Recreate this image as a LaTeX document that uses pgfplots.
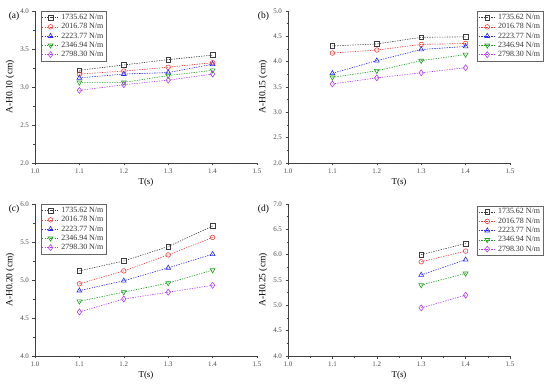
\documentclass[border=0pt]{standalone}
\usepackage{pgfplots}
\pgfplotsset{compat=1.18}
\usepackage{fontspec}
\setmainfont{Liberation Serif}
\definecolor{cK}{RGB}{60,60,60}
\definecolor{cR}{RGB}{255,60,60}
\definecolor{cB}{RGB}{40,40,255}
\definecolor{cG}{RGB}{30,160,30}
\definecolor{cP}{RGB}{180,60,255}
\tikzset{plab/.style={font=\fontsize{9.5}{10}\selectfont, anchor=east}}
\pgfplotsset{
  panel/.style={
    width=222bp, height=152bp, scale only axis,
    axis lines*=left, axis line style={draw=black!75, line width=0.5bp},
    xmin=1.0, xmax=1.5, xtick={1.0,1.1,1.2,1.3,1.4,1.5},
    minor x tick num=1, minor y tick num=1,
    tick align=outside, major tick length=2.5bp, minor tick length=1.5bp,
    tick style={black!75, line width=0.5bp},
    xticklabel style={/pgf/number format/fixed,/pgf/number format/fixed zerofill,/pgf/number format/precision=1},
    yticklabel style={/pgf/number format/fixed,/pgf/number format/fixed zerofill,/pgf/number format/precision=1},
    /pgf/number format/assume math mode=true,
    tick label style={font=\fontsize{7}{8}\selectfont, text=black!70},
    xlabel style={font=\fontsize{9}{10}\selectfont, yshift=2bp},
    ylabel style={font=\fontsize{9.5}{10}\selectfont, yshift=-1bp},
    xlabel={T(s)},
    clip=false,
    legend cell align=left,
    legend style={font=\fontsize{8}{9}\selectfont, draw=black!60, line width=0.4bp,
      inner sep=1bp, row sep=-1.5bp, text=black!80},
  },
  ser/.style={line width=0.6bp, dash pattern=on 1.3bp off 1.2bp, mark size=2.3bp, mark options={solid, line width=0.6bp, fill=white}},
  sK/.style={ser, cK, mark=square},
  sR/.style={ser, cR, mark=o},
  sB/.style={ser, cB, mark=triangle, mark size=2.8bp},
  sG/.style={ser, cG, mark=triangle, mark size=2.8bp, mark options={solid, rotate=180, line width=0.6bp, fill=white}},
  sP/.style={ser, cP, mark=diamond, mark size=3bp},
}
\begin{document}
\begin{tikzpicture}
\useasboundingbox (0bp,0bp) rectangle (550bp,386bp);
% (a)
\begin{axis}[panel, at={(35bp,223bp)}, anchor=south west,
  ymin=2.0, ymax=4.0, ytick={2.0,2.5,3.0,3.5,4.0}, ylabel={A-H0.10 (cm)},
  legend style={at={(rel axis cs:0.025,1)}, anchor=north west}]
\addplot[sK] coordinates {(1.1,3.22) (1.2,3.29) (1.3,3.36) (1.4,3.42)};
\addplot[sR] coordinates {(1.1,3.17) (1.2,3.21) (1.3,3.26) (1.4,3.32)};
\addplot[sB] coordinates {(1.1,3.12) (1.2,3.17) (1.3,3.19) (1.4,3.30)};
\addplot[sG] coordinates {(1.1,3.06) (1.2,3.06) (1.3,3.15) (1.4,3.22)};
\addplot[sP] coordinates {(1.1,2.955) (1.2,3.03) (1.3,3.09) (1.4,3.17)};
\legend{1735.62 N/m,2016.78 N/m,2223.77 N/m,2346.94 N/m,2798.30 N/m}
\node[plab] at (rel axis cs:-0.055,0.965) {(a)};
\end{axis}
% (b)
\begin{axis}[panel, at={(288bp,223bp)}, anchor=south west,
  ymin=2.0, ymax=5.0, ytick={2.0,2.5,3.0,3.5,4.0,4.5,5.0}, ylabel={A-H0.15 (cm)},
  legend style={at={(rel axis cs:1.15,1)}, anchor=north east}]
\addplot[sK] coordinates {(1.1,4.31) (1.2,4.35) (1.3,4.48) (1.4,4.49)};
\addplot[sR] coordinates {(1.1,4.17) (1.2,4.23) (1.3,4.34) (1.4,4.36)};
\addplot[sB] coordinates {(1.1,3.77) (1.2,4.02) (1.3,4.24) (1.4,4.30)};
\addplot[sG] coordinates {(1.1,3.69) (1.2,3.82) (1.3,4.02) (1.4,4.14)};
\addplot[sP] coordinates {(1.1,3.56) (1.2,3.68) (1.3,3.78) (1.4,3.88)};
\legend{1735.62 N/m,2016.78 N/m,2223.77 N/m,2346.94 N/m,2798.30 N/m}
\node[plab] at (rel axis cs:-0.07,0.965) {(b)};
\end{axis}
% (c)
\begin{axis}[panel, at={(35bp,30bp)}, anchor=south west,
  ymin=4.0, ymax=6.0, ytick={4.0,4.5,5.0,5.5,6.0}, ylabel={A-H0.20 (cm)},
  legend style={at={(rel axis cs:0.025,1)}, anchor=north west}]
\addplot[sK] coordinates {(1.1,5.12) (1.2,5.25) (1.3,5.44) (1.4,5.71)};
\addplot[sR] coordinates {(1.1,4.95) (1.2,5.12) (1.3,5.33) (1.4,5.56)};
\addplot[sB] coordinates {(1.1,4.86) (1.2,4.99) (1.3,5.16) (1.4,5.34)};
\addplot[sG] coordinates {(1.1,4.72) (1.2,4.84) (1.3,4.96) (1.4,5.13)};
\addplot[sP] coordinates {(1.1,4.58) (1.2,4.75) (1.3,4.84) (1.4,4.93)};
\legend{1735.62 N/m,2016.78 N/m,2223.77 N/m,2346.94 N/m,2798.30 N/m}
\node[plab] at (rel axis cs:-0.055,0.965) {(c)};
\end{axis}
% (d)
\begin{axis}[panel, at={(288bp,30bp)}, anchor=south west,
  ymin=4.0, ymax=7.0, ytick={4.0,4.5,5.0,5.5,6.0,6.5,7.0}, ylabel={A-H0.25 (cm)},
  legend style={at={(rel axis cs:1.15,0.99)}, anchor=north east}]
\addplot[sK] coordinates {(1.3,6.00) (1.4,6.22)};
\addplot[sR] coordinates {(1.3,5.86) (1.4,6.07)};
\addplot[sB] coordinates {(1.3,5.60) (1.4,5.90)};
\addplot[sG] coordinates {(1.3,5.40) (1.4,5.63)};
\addplot[sP] coordinates {(1.3,4.95) (1.4,5.20)};
\legend{1735.62 N/m,2016.78 N/m,2223.77 N/m,2346.94 N/m,2798.30 N/m}
\node[plab] at (rel axis cs:-0.07,0.965) {(d)};
\end{axis}
\end{tikzpicture}
\end{document}
